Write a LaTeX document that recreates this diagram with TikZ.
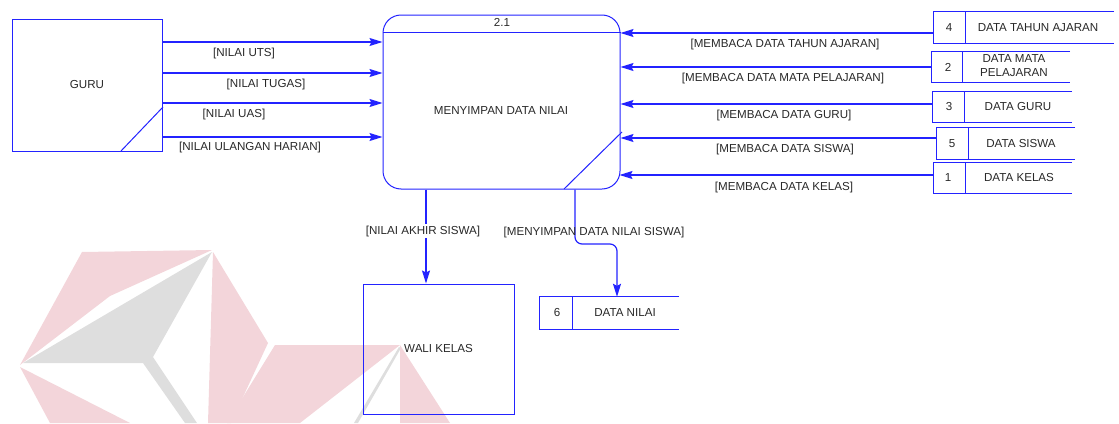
\documentclass[tikz,border=0pt]{standalone}
\usepackage{fontspec}
\setmainfont{Liberation Sans}
\usetikzlibrary{arrows.meta}
\definecolor{dfd}{RGB}{35,35,255}
\definecolor{txt}{RGB}{40,40,40}
\definecolor{wmpink}{RGB}{243,213,218}
\definecolor{wmgray}{RGB}{222,222,222}
\begin{document}
\begin{tikzpicture}[x=1pt,y=-1pt,
  box/.style={draw=dfd, line width=1pt},
  flow/.style={draw=dfd, line width=1.2pt, -{Stealth[length=13pt,width=8pt,inset=2pt]}},
  lbl/.style={font=\fontsize{11.6}{14}\selectfont, text=txt, inner sep=0pt, align=center},
  slot/.style={inner sep=0pt, minimum width=#1}]
\useasboundingbox (0,0) rectangle (1119,423);
% watermark
\fill[wmpink] (82,252) -- (212,250) -- (110,296) -- (20,365) -- cycle;
\fill[wmgray] (212,252) -- (23,363) -- (143,363) -- (185,423) -- (197,423) -- (153,357) -- cycle;
\fill[wmpink] (213,252) -- (268,343) -- (231,423) -- (208,423) -- cycle;
\fill[wmpink] (20,367) -- (130,423) -- (50,423) -- cycle;
\fill[wmpink] (275,345) -- (400,345) -- (300,423) -- (227,423) -- cycle;
\fill[wmgray] (399,347) -- (401,348) -- (358,423) -- (354,423) -- cycle;
\fill[wmpink] (400,345) -- (450,423) -- (400,423) -- cycle;
% external entities
\node[box, minimum width=150pt, minimum height=132pt, lbl] (guru) at (87,85) {GURU};
\draw[box] (121,151) -- (163,107);
\node[box, minimum width=151pt, minimum height=130pt, lbl] (wali) at (438.5,349) {WALI KELAS};
% process
\node[box, rounded corners=18pt, minimum width=237pt, minimum height=174pt, inner sep=0pt] (p) at (501.5,102) {};
\draw[box] (p.west |- 0,32) -- (p.east |- 0,32);
\draw[box] (564,189) -- (622,132);
\node[lbl] (pid) at (502,22) {2.1};
\node[lbl] (pname) at (501,111) {MENYIMPAN DATA NILAI};
% data stores
\foreach \n/\cx/\cy/\w/\h/\dv in {s4/1024/27.5/180/31/965, s2/1001/67/138/30/962, s3/1002.5/107/139/30/964, s5/1006/143.5/138/31/968, s1/1003/178/138/30/965, s6/609.5/313/139/32/572}{
  \node[inner sep=0pt, minimum width=\w pt, minimum height=\h pt] (\n) at (\cx,\cy) {};
  \draw[box] (\n.north east) -- (\n.north west) -- (\n.south west) -- (\n.south east);
  \draw[box] (\n.north west -| \dv,0) -- (\n.south west -| \dv,0);
}
\node[lbl] at (949,28) {4};
\node[lbl] at (1038,28) {DATA TAHUN AJARAN};
\node[lbl] at (948,67) {2};
\node[lbl] at (1014,66) {DATA MATA\\PELAJARAN};
\node[lbl] at (949,107) {3};
\node[lbl] at (1018,107) {DATA GURU};
\node[lbl] at (952,144) {5};
\node[lbl] at (1021,144) {DATA SISWA};
\node[lbl] at (948,178) {1};
\node[lbl] at (1019,178) {DATA KELAS};
\node[lbl] at (557,313) {6};
\node[lbl] at (625,313) {DATA NILAI};
% flows from GURU
\draw[flow] (guru.east |- 0,42) -- (p.west |- 0,42);
\draw[flow] (guru.east |- 0,73) -- (p.west |- 0,73);
\draw[flow] (guru.east |- 0,103) -- (p.west |- 0,103);
\draw[flow] (guru.east |- 0,137) -- (p.west |- 0,137);
\node[lbl] at (244,53) {[NILAI UTS]};
\node[lbl] at (266,85) {[NILAI TUGAS]};
\node[lbl] at (234,114) {[NILAI UAS]};
\node[lbl] at (250,147) {[NILAI ULANGAN HARIAN]};
% flows from stores
\draw[flow] (s4.west |- 0,33) -- (p.east |- 0,33);
\draw[flow] (s2.west |- 0,67) -- (p.east |- 0,67);
\draw[flow] (s3.west |- 0,104) -- (p.east |- 0,104);
\draw[flow] (s5.west |- 0,138) -- (p.east |- 0,138);
\draw[flow] (s1.west |- 0,175) -- (619.5,175);
\node[lbl] at (785,45) {[MEMBACA DATA TAHUN AJARAN]};
\node[lbl] at (783,78) {[MEMBACA DATA MATA PELAJARAN]};
\node[lbl] at (784,115) {[MEMBACA DATA GURU]};
\node[lbl] at (785,149) {[MEMBACA DATA SISWA]};
\node[lbl] at (784,187) {[MEMBACA DATA KELAS]};
% output flows
\draw[flow] (p.south -| 426,0) -- (wali.north -| 426,0);
\node[lbl, fill=white, inner xsep=1pt, inner ysep=2pt] at (423,231) {[NILAI AKHIR SISWA]};
\draw[flow, rounded corners=7pt] (p.south -| 575,0) -- (575,244) -- (617,244) -- (s6.north -| 617,0);
\node[lbl] at (594,232) {[MENYIMPAN DATA NILAI SISWA]};
\end{tikzpicture}
\end{document}
